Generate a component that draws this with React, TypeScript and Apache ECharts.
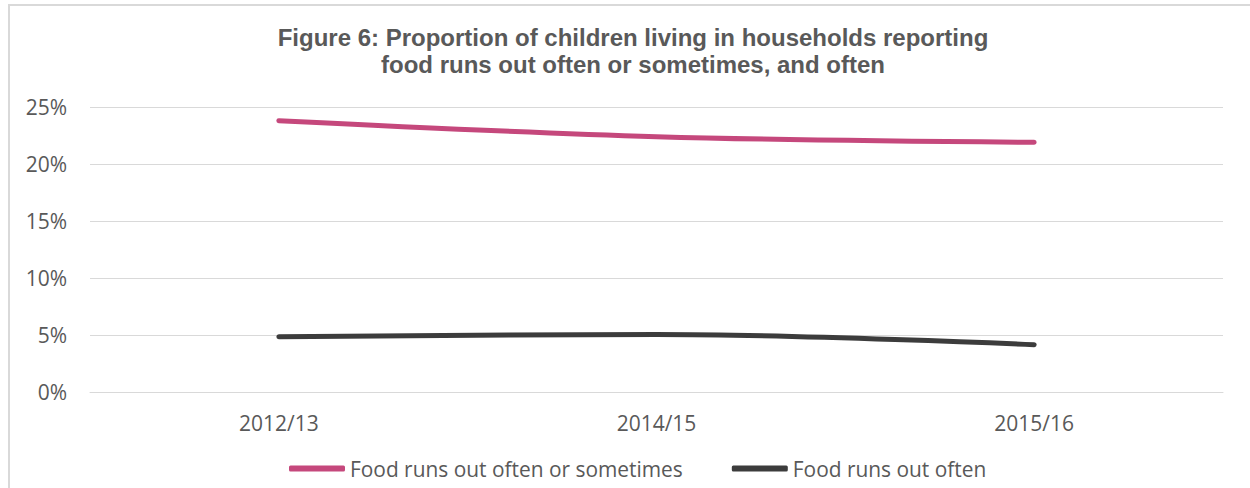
import React, { useEffect, useRef } from "react";
import * as echarts from "echarts";

const categories = ["2012/13", "2014/15", "2015/16"];
const oftenOrSometimes = [23.8, 22.4, 21.9];
const often = [4.85, 5.05, 4.15];
const seriesNames = ["Food runs out often or sometimes", "Food runs out often"];
const titleLines = [
  "Figure 6: Proportion of children living in households reporting",
  "food runs out often or sometimes, and often",
];

const GREY = "#595959";
const AXIS_FONT = "'Open Sans', 'Noto Sans', sans-serif";

export default function App() {
  const ref = useRef<HTMLDivElement>(null);
  useEffect(() => {
    if (!ref.current) return;
    const chart = echarts.init(ref.current, undefined, { renderer: "svg" });
    chart.setOption({
      animation: false,
      backgroundColor: "#ffffff",
      title: {
        text: titleLines.join("\n"),
        left: 633,
        top: 24,
        padding: 0,
        textAlign: "center",
        textStyle: {
          fontFamily: "'Liberation Sans', Arial, sans-serif",
          fontWeight: "bold",
          fontSize: 24,
          lineHeight: 27,
          color: GREY,
        },
      },
      graphic: [
        {
          type: "rect",
          shape: { x: 9, y: 5, width: 1300, height: 600 },
          style: { fill: "none", stroke: "#d9d9d9", lineWidth: 2 },
          silent: true,
        },
      ],
      legend: {
        left: 289,
        top: 458,
        padding: 0,
        itemWidth: 56,
        itemHeight: 6,
        itemGap: 49,
        icon: "roundRect",
        data: seriesNames,
        textStyle: { fontFamily: AXIS_FONT, fontSize: 20.9, color: GREY },
      },
      grid: { left: 90, right: 27, top: 107, bottom: 96 },
      xAxis: {
        type: "category",
        data: categories,
        boundaryGap: true,
        axisLine: { lineStyle: { color: "#d9d9d9", width: 1 } },
        axisTick: { show: false },
        axisLabel: { margin: 20, fontFamily: AXIS_FONT, fontSize: 21, color: GREY },
      },
      yAxis: {
        type: "value",
        min: 0,
        max: 25,
        interval: 5,
        axisLine: { show: false },
        axisTick: { show: false },
        splitLine: { lineStyle: { color: "#d9d9d9", width: 1 } },
        axisLabel: {
          margin: 23,
          formatter: "{value}%",
          fontFamily: AXIS_FONT,
          fontSize: 21,
          color: GREY,
        },
      },
      series: [
        {
          name: seriesNames[0],
          type: "line",
          data: oftenOrSometimes,
          smooth: 0.35,
          showSymbol: false,
          color: "#C5487C",
          lineStyle: { width: 5, cap: "round", join: "round" },
        },
        {
          name: seriesNames[1],
          type: "line",
          data: often,
          smooth: 0.35,
          showSymbol: false,
          color: "#3c3c3c",
          lineStyle: { width: 5, cap: "round", join: "round" },
        },
      ],
    });
    return () => chart.dispose();
  }, []);
  return (
    <div
      ref={ref}
      style={{ position: "absolute", left: 0, top: 0, width: 1250, height: 488 }}
    />
  );
}
